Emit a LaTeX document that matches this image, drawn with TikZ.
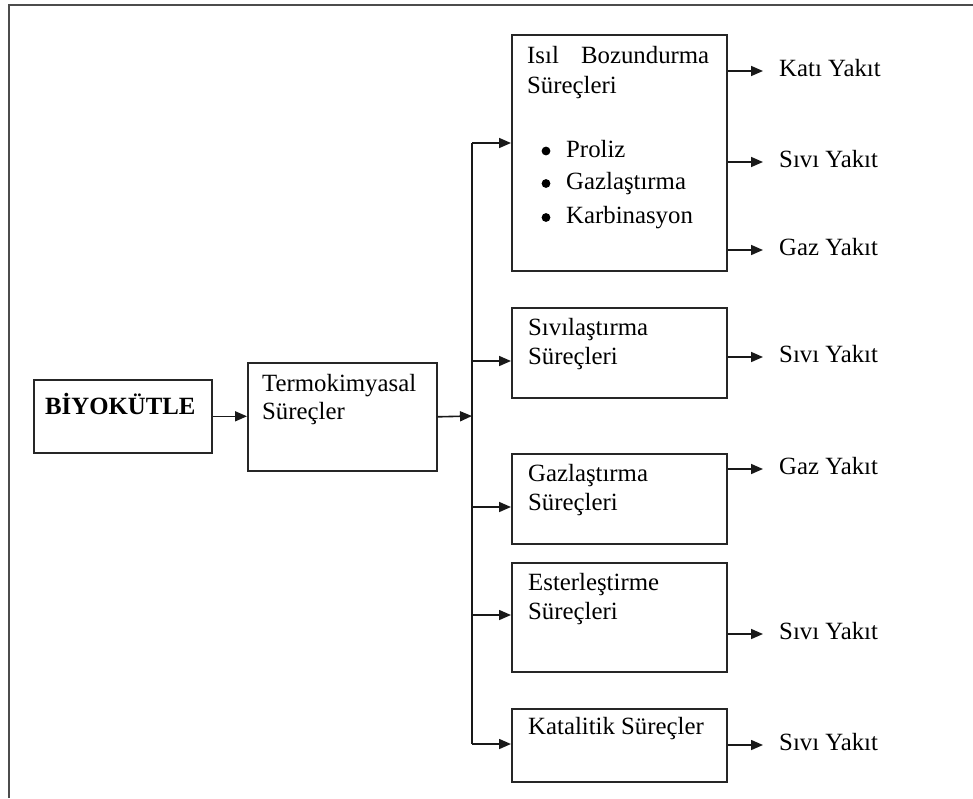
\documentclass[tikz,border=0pt]{standalone}
\usepackage{fontspec}
\setmainfont{Liberation Serif}
\usetikzlibrary{arrows.meta}
\newcommand{\fs}{\fontsize{24.8}{30}\selectfont}
\begin{document}
\begin{tikzpicture}[x=1pt,y=-1pt,
  frame/.style={draw=black!70, line width=2pt},
  box/.style={draw=black!85, line width=1.6pt, inner sep=0pt, anchor=north west},
  txt/.style={anchor=mid west, inner sep=0pt, font=\fs},
  outlbl/.style={anchor=west, inner xsep=16pt, inner ysep=0pt, text height=16pt, text depth=5pt, font=\fs},
  wire/.style={draw=black!90, line width=1.6pt},
  arr/.style={wire, -{Triangle[length=12pt,width=10pt]}},
  bulletdot/.style={fill=black}]

\useasboundingbox (0,0) rectangle (973,798);

% outer frame
\draw[frame] (8.5,798) -- (8.5,4.5) -- (973,4.5);

% boxes
\node[box, minimum width=178pt, minimum height=73pt]  (bio)  at (33,379) {};
\node[box, minimum width=189pt, minimum height=108pt] (term) at (247,362) {};
\node[box, minimum width=215pt, minimum height=236pt] (b1)   at (511,34) {};
\node[box, minimum width=215pt, minimum height=90pt]  (b2)   at (511,307) {};
\node[box, minimum width=215pt, minimum height=90pt]  (b3)   at (511,453) {};
\node[box, minimum width=215pt, minimum height=109pt] (b4)   at (511,562) {};
\node[box, minimum width=215pt, minimum height=73pt]  (b5)   at (511,708) {};

% box texts
\node[txt, font=\fs\bfseries] (biot) at (45,412.5) {BİYOKÜTLE};
\node[txt] (t1) at (262,389.5) {Termokimyasal};
\node[txt] (t2) at (262,417.5) {Süreçler};

\node[txt] (b1a) at (527,61) {\hbox to 182pt{Isıl\hfill Bozundurma}};
\node[txt] (b1b) at (527,91.5) {Süreçleri};
\node[txt] (b1c) at (566,155) {Proliz};
\node[txt] (b1d) at (566,187.5) {Gazlaştırma};
\node[txt] (b1e) at (566,221.5) {Karbinasyon};
\foreach \n in {b1c,b1d,b1e}
  \fill[bulletdot] ([xshift=-20pt,yshift=4pt]\n.mid west) circle (4.4pt);

\node[txt] (b2a) at (528,333.5) {Sıvılaştırma};
\node[txt] (b2b) at (528,362.5) {Süreçleri};
\node[txt] (b3a) at (528,479.5) {Gazlaştırma};
\node[txt] (b3b) at (528,508.5) {Süreçleri};
\node[txt] (b4a) at (528,588.5) {Esterleştirme};
\node[txt] (b4b) at (528,617) {Süreçleri};
\node[txt] (b5a) at (528,732) {Katalitik Süreçler};

% products
\node[outlbl] (o1) at (763,71)  {Katı Yakıt};
\node[outlbl] (o2) at (763,162) {Sıvı Yakıt};
\node[outlbl] (o3) at (763,250) {Gaz Yakıt};
\node[outlbl] (o4) at (763,357) {Sıvı Yakıt};
\node[outlbl] (o5) at (763,469) {Gaz Yakıt};
\node[outlbl] (o6) at (763,634) {Sıvı Yakıt};
\node[outlbl] (o7) at (763,745) {Sıvı Yakıt};

% distribution bus
\coordinate (j)  at (472,416);
\coordinate (p1) at (472,143);
\coordinate (p2) at (472,361);
\coordinate (p3) at (472,507);
\coordinate (p4) at (472,615);
\coordinate (p5) at (472,744);

% connectors
\draw[arr] (bio.east) -- (bio.east -| term.west);
\draw[arr] (term.east) -- (j);
\draw[wire] (p1) -- (p5);
\draw[arr] (p1) -- (p1 -| b1.west);
\draw[arr] (p2) -- (p2 -| b2.west);
\draw[arr] (p3) -- (p3 -| b3.west);
\draw[arr] (p4) -- (p4 -| b4.west);
\draw[arr] (p5) -- (p5 -| b5.west);

\draw[arr] (o1.west -| b1.east) -- (o1.west);
\draw[arr] (o2.west -| b1.east) -- (o2.west);
\draw[arr] (o3.west -| b1.east) -- (o3.west);
\draw[arr] (o4.west -| b2.east) -- (o4.west);
\draw[arr] (o5.west -| b3.east) -- (o5.west);
\draw[arr] (o6.west -| b4.east) -- (o6.west);
\draw[arr] (o7.west -| b5.east) -- (o7.west);
\end{tikzpicture}
\end{document}
